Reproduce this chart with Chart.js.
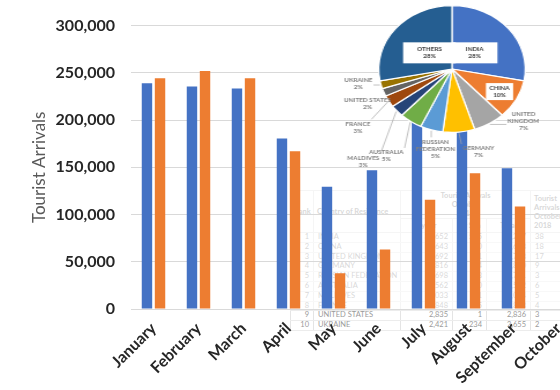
<!DOCTYPE html>
<html>
<head>
<meta charset="utf-8">
<script src="https://cdn.jsdelivr.net/npm/chart.js@4.4.1/dist/chart.umd.min.js"></script>
<style>
  html, body { margin: 0; padding: 0; background: #fff; }
  #wrap { position: relative; width: 560px; height: 390px; overflow: hidden; background: #fff; }
  #barChart { position: absolute; left: 0; top: 0; z-index: 2; }
  #pieChart { position: absolute; left: 337px; top: -21px; z-index: 3; transform: scaleX(1.156); transform-origin: 50% 50%; }
  table.bg { position: absolute; left: 290px; top: 190px; width: 300px; z-index: 1; border-collapse: collapse; table-layout: fixed;
    font: 7.5px Lato, sans-serif; color: #9a9a9a; }
  table.bg th { font-weight: bold; border: 1px solid #e4e4e4; padding: 0 3px; line-height: 9px; overflow: hidden; white-space: nowrap; }
  table.bg td { border-left: 1px solid #e4e4e4; border-right: 1px solid #e4e4e4; border-bottom: 1px solid #ececec;
    height: 8.8px; line-height: 8.8px; padding: 0 4px; text-align: right; white-space: nowrap; overflow: hidden; }
  table.bg td.l, table.bg th.l { text-align: left; }
  table.bg tr.h1 { height: 28px; }
  table.bg tr.h2 { height: 14px; }
</style>
</head>
<body>
<div id="wrap">
  <table class="bg" id="arrivalsTable">
    <colgroup>
      <col style="width:23px"><col style="width:87px"><col style="width:52px"><col style="width:34px"><col style="width:44px"><col style="width:60px">
    </colgroup>
    <thead>
      <tr class="h1"><th rowspan="2">Rank</th><th rowspan="2" class="l">Country of Residence</th><th colspan="3">Tourist Arrivals<br>October<br>2019</th><th rowspan="2" class="l">Tourist<br>Arrivals<br>October<br>2018</th></tr>
      <tr class="h2"><th>By Air</th><th>By Sea</th><th>Total</th></tr>
    </thead>
    <tbody id="tableBody"></tbody>
  </table>
  <canvas id="barChart" width="600" height="390"></canvas>
  <canvas id="pieChart" width="230" height="200"></canvas>
</div>
<script>
// Monthly tourist arrivals (blue = 2018, orange = 2019)
const months = ["January", "February", "March", "April", "May", "June", "July", "August", "September", "October"]
const arrivals2018 = [238900, 235600, 233400, 180400, 129500, 146800, 217800, 200400, 149100, null]
const arrivals2019 = [244200, 252000, 244300, 167000, 37800, 63100, 115700, 143600, 108600, null]
const yTicks = [0, 50000, 100000, 150000, 200000, 250000, 300000]

// Source markets, October 2019 (pie shares in %)
const pieCountries = ["INDIA", "CHINA", "UNITED KINGDOM", "GERMANY", "RUSSIAN FEDERATION", "AUSTRALIA", "MALDIVES", "FRANCE", "UNITED STATES", "UKRAINE", "OTHERS"]
const pieShare = [28, 10, 7, 7, 5, 5, 3, 3, 2, 2, 28]

// Faded table behind the bars
const tableCountries = ["INDIA", "CHINA", "UNITED KINGDOM", "GERMANY", "RUSSIAN FEDERATION", "AUSTRALIA", "MALDIVES", "FRANCE", "UNITED STATES", "UKRAINE"]
const tableByAir = ["32,652", "11,643", "8,692", "7,816", "5,698", "5,562", "3,033", "2,848", "2,835", "2,421"]
const tableBySea = ["565", "40", "71", "4", "63", "0", "1", "15", "1", "234"]
const tableTotal = ["33,217", "11,683", "8,763", "7,820", "5,761", "5,562", "3,034", "2,863", "2,836", "2,655"]
const tablePrev = ["38", "18", "17", "9", "3", "6", "5", "4", "3", "2"]

const blue = "#4472C4"
const orange = "#ED7D31"
const pieColors = ["#4472C4", "#ED7D31", "#A5A5A5", "#FFC000", "#5B9BD5", "#70AD47", "#264478", "#9E480E", "#636363", "#997300", "#255E91"]

// build table rows
document.getElementById("tableBody").innerHTML = tableCountries
  .map((c, i) => `<tr><td>${i + 1}</td><td class="l">${c}</td><td>${tableByAir[i]}</td><td>${tableBySea[i]}</td><td>${tableTotal[i]}</td><td class="l">${tablePrev[i]}</td></tr>`)
  .join("")

// white wash over the plot area so the table shows faintly
const plotVeil = {
  id: "plotVeil",
  beforeDraw(chart) {
    const { ctx, chartArea: a } = chart
    ctx.save()
    ctx.fillStyle = "rgba(255,255,255,0.62)"
    ctx.fillRect(a.left, a.top, a.right - a.left, a.bottom - a.top)
    ctx.restore()
  },
}

new Chart(document.getElementById("barChart"), {
  type: "bar",
  data: {
    labels: months,
    datasets: [
      { label: "2018", data: arrivals2018, backgroundColor: blue, categoryPercentage: 0.58, barPercentage: 0.8 },
      { label: "2019", data: arrivals2019, backgroundColor: orange, categoryPercentage: 0.58, barPercentage: 0.8 },
    ],
  },
  options: {
    responsive: false,
    animation: false,
    layout: { padding: { top: 22, right: 19, bottom: 0, left: 0 } },
    plugins: { legend: { display: false }, tooltip: { enabled: false } },
    scales: {
      x: {
        grid: { display: false, drawTicks: false },
        border: { display: false },
        ticks: {
          autoSkip: false,
          maxRotation: 45,
          minRotation: 45,
          padding: 10,
          color: "#262626",
          font: { family: "Lato", size: 16, weight: "bold" },
        },
        afterFit(scale) { scale.height = 81 },
      },
      y: {
        min: 0,
        max: 300000,
        afterBuildTicks(scale) { scale.ticks = yTicks.map((v) => ({ value: v })) },
        grid: { color: "#d9d9d9", drawTicks: false },
        border: { display: false },
        ticks: {
          padding: 16,
          color: "#262626",
          font: { family: "Lato", size: 16, weight: "bold" },
          callback: (v) => v.toLocaleString("en-US"),
        },
        title: {
          display: true,
          text: "Tourist Arrivals",
          color: "#595959",
          font: { family: "Lato", size: 17 },
          padding: { top: 29, bottom: 0 },
        },
        afterFit(scale) { scale.width = 131 },
      },
    },
  },
  plugins: [plotVeil],
})

// pie labels: boxed inside the big slices, leader lines for the small ones
const pieLabels = {
  id: "pieLabels",
  afterDatasetsDraw(chart, args, opts) {
    const ctx = chart.ctx
    const arcs = chart.getDatasetMeta(0).data
    const lh = 7
    ctx.save()
    ctx.font = "bold 5.5px Lato, sans-serif"
    ctx.textAlign = "center"
    ctx.textBaseline = "middle"
    arcs.forEach((arc, i) => {
      const p = arc.getProps(["x", "y", "startAngle", "endAngle", "outerRadius"], true)
      const [shift, dist, inside] = opts.place[i]
      const mid = (p.startAngle + p.endAngle) / 2
      const a = mid + (shift * Math.PI) / 180
      const lx = p.x + Math.cos(a) * p.outerRadius * dist
      const ly = p.y + Math.sin(a) * p.outerRadius * dist
      const name = pieCountries[i]
      const lines = name.length >= 14 ? name.split(" ") : [name]
      lines.push(pieShare[i] + "%")
      const w = Math.max(...lines.map((t) => ctx.measureText(t).width))
      const h = lines.length * lh
      if (inside) {
        const padX = pieShare[i] >= 20 ? 12 : 3
        const padY = pieShare[i] >= 20 ? 3.5 : 1.5
        ctx.fillStyle = "#fff"
        ctx.fillRect(lx - w / 2 - padX, ly - h / 2 - padY, w + 2 * padX, h + 2 * padY)
        ctx.fillStyle = "#404040"
      } else {
        const ex = p.x + Math.cos(mid) * (p.outerRadius + 1)
        const ey = p.y + Math.sin(mid) * (p.outerRadius + 1)
        const bx = Math.min(Math.max(ex, lx - w / 2 - 1), lx + w / 2 + 1)
        const by = Math.min(Math.max(ey, ly - h / 2 - 1), ly + h / 2 + 1)
        if (Math.hypot(bx - ex, by - ey) > 4) {
          ctx.strokeStyle = "#a6a6a6"
          ctx.lineWidth = 0.7
          ctx.beginPath()
          ctx.moveTo(ex, ey)
          ctx.lineTo(bx, by)
          ctx.stroke()
        }
        ctx.fillStyle = "#7f7f7f"
      }
      lines.forEach((t, k) => ctx.fillText(t, lx, ly - h / 2 + lh / 2 + k * lh))
    })
    ctx.restore()
  },
}

new Chart(document.getElementById("pieChart"), {
  type: "pie",
  data: {
    labels: pieCountries,
    datasets: [{ data: pieShare, backgroundColor: pieColors, borderColor: "#fff", borderWidth: 1.2 }],
  },
  options: {
    responsive: false,
    animation: false,
    layout: { padding: { top: 26, bottom: 46, left: 26, right: 26 } },
    plugins: {
      legend: { display: false },
      tooltip: { enabled: false },
      pieLabels: {
        // [angle shift in degrees, distance as share of radius, inside]
        place: [[0, 0.4, true], [0, 0.74, true], [-19, 1.28], [-10, 1.36], [-6, 1.28], [-1, 1.64], [-9, 1.9], [-5, 1.58], [-4, 1.28], [4, 1.3], [0, 0.4, true]],
      },
    },
  },
  plugins: [pieLabels],
})
</script>
</body>
</html>
